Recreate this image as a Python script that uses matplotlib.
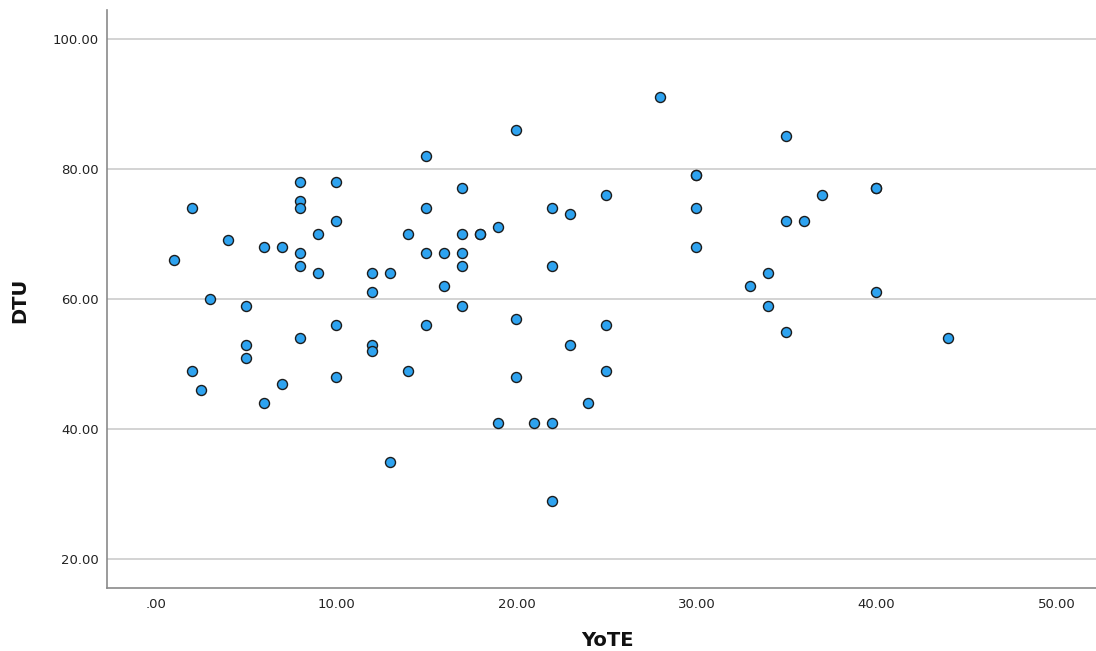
import matplotlib
matplotlib.use("Agg")
import matplotlib.pyplot as plt
from matplotlib.ticker import FixedLocator, FuncFormatter

# Data
yote = [1, 2, 2, 2.5, 3, 4, 5, 5, 5, 6, 6, 7, 7, 8, 8, 8, 8, 8, 8,
        9, 9, 10, 10, 10, 10, 12, 12, 12, 12, 13, 13, 14, 14,
        15, 15, 15, 15, 16, 16, 17, 17, 17, 17, 17, 18, 18, 19, 19,
        20, 20, 20, 21, 22, 22, 22, 22, 23, 23, 24, 25, 25, 25,
        28, 30, 30, 30, 30, 33, 34, 34, 35, 35, 35, 36, 37, 40, 40, 40, 44]
dtu = [66, 74, 49, 46, 60, 69, 59, 53, 51, 68, 44, 68, 47, 78, 75, 74, 67, 65, 54,
       70, 64, 78, 72, 56, 48, 64, 61, 53, 52, 64, 35, 70, 49,
       82, 74, 67, 56, 67, 62, 77, 70, 67, 65, 59, 70, 70, 71, 41,
       86, 57, 48, 41, 74, 65, 41, 29, 73, 53, 44, 76, 56, 49,
       91, 79, 79, 74, 68, 62, 64, 59, 85, 72, 55, 72, 76, 77, 77, 61, 54]

x_ticks = [0, 10, 20, 30, 40, 50]
y_ticks = [20, 40, 60, 80, 100]
x_label = "YoTE"
y_label = "DTU"


def spss_fmt(v, pos=None):
    s = f"{v:.2f}"
    if s.startswith("0."):
        s = s[1:]
    return s


fig = plt.figure(figsize=(10.96, 6.51), dpi=100)
ax = fig.add_axes([107 / 1096, 63 / 651, 1 - 107 / 1096, 578 / 651])

ax.scatter(yote, dtu, s=52, facecolor="#2ea3f0", edgecolor="#1c1c1c",
           linewidth=1.0, zorder=3)

ax.set_xlim(-2.75, 52.2)
ax.set_ylim(15.54, 104.46)
ax.xaxis.set_major_locator(FixedLocator(x_ticks))
ax.yaxis.set_major_locator(FixedLocator(y_ticks))
ax.xaxis.set_major_formatter(FuncFormatter(spss_fmt))
ax.yaxis.set_major_formatter(FuncFormatter(spss_fmt))

ax.grid(axis="y", color="#d0d0d0", linewidth=1.3, zorder=0)
ax.set_axisbelow(True)
for side in ("top", "right"):
    ax.spines[side].set_visible(False)
for side in ("left", "bottom"):
    ax.spines[side].set_color("#8a8a8a")
    ax.spines[side].set_linewidth(1.2)

ax.tick_params(axis="both", length=0, labelsize=9.5, labelcolor="#222222")
ax.tick_params(axis="x", pad=7.5)
ax.tick_params(axis="y", pad=6)

fig.text(607 / 1096, 1 - 641 / 651, x_label, fontsize=14, fontweight="bold",
         ha="center", va="center", color="#111111")
fig.text(20 / 1096, 1 - 300 / 651, y_label, fontsize=14, fontweight="bold",
         ha="center", va="center", rotation=90, color="#111111")

fig.savefig("out.png", dpi=100, facecolor="white")
